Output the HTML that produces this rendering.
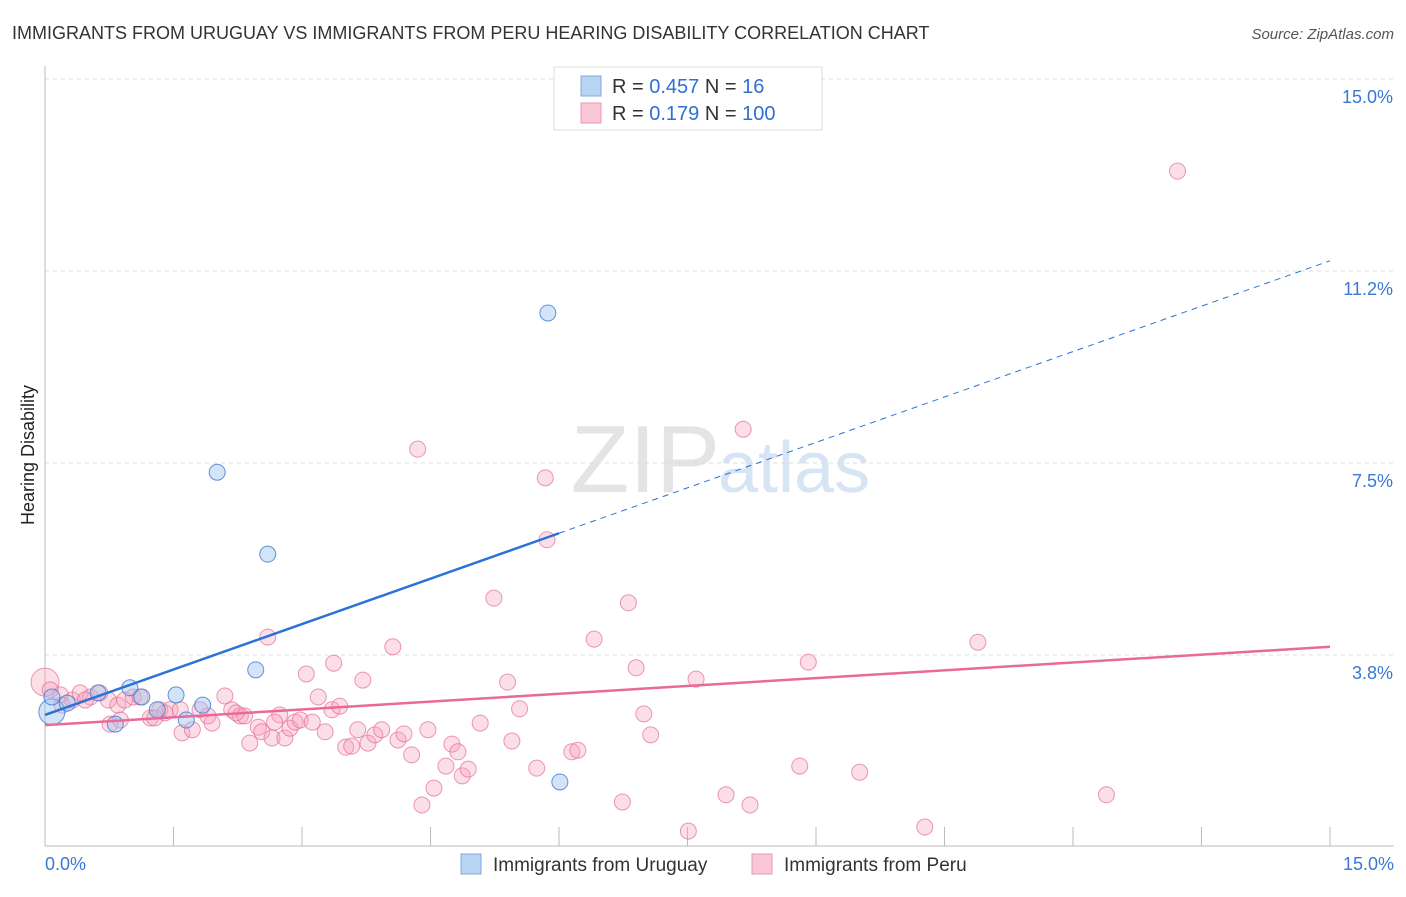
<!DOCTYPE html>
<html><head><meta charset="utf-8"><style>
body{margin:0;background:#fff;font-family:"Liberation Sans",sans-serif}
svg text{font-family:"Liberation Sans",sans-serif}
</style></head><body>
<svg width="1406" height="892" viewBox="0 0 1406 892">
<text x="12" y="39" font-size="18" fill="#333">IMMIGRANTS FROM URUGUAY VS IMMIGRANTS FROM PERU HEARING DISABILITY CORRELATION CHART</text>
<text x="1394" y="39" font-size="15" fill="#555" text-anchor="end" font-style="italic">Source: ZipAtlas.com</text>
<text x="720" y="492" font-size="96" fill="#e4e4e4" text-anchor="end" font-family="Liberation Serif">ZIP</text>
<text x="718" y="492" font-size="72" fill="#d6e4f4">atlas</text>
<g id="grid"></g><g id="axes"></g><g id="pts"></g><g id="lines"></g>
<text x="34" y="455" font-size="18" fill="#222" transform="rotate(-90 34 455)" text-anchor="middle">Hearing Disability</text>
<g>
<rect x="554" y="67" width="268" height="63" fill="#fff" stroke="#ddd"/>
<rect x="581" y="76" width="20" height="20" fill="#b9d3f3" stroke="#7fa8de"/>
<rect x="581" y="103" width="20" height="20" fill="#f9c6d5" stroke="#ea9ab2"/>
<text x="612" y="93" font-size="20" fill="#333">R = <tspan fill="#2f6fd6">0.457</tspan>   N =   <tspan fill="#2f6fd6"> 16</tspan></text>
<text x="612" y="120" font-size="20" fill="#333">R =  <tspan fill="#2f6fd6">0.179</tspan>   N = <tspan fill="#2f6fd6">100</tspan></text>
</g>
<g>
<rect x="461" y="854" width="20" height="20" fill="#b9d3f3" stroke="#7fa8de"/>
<text x="493" y="871" font-size="19" fill="#333">Immigrants from Uruguay</text>
<rect x="752" y="854" width="20" height="20" fill="#f9c6d5" stroke="#ea9ab2"/>
<text x="784" y="871" font-size="19" fill="#333">Immigrants from Peru</text>
</g>
</svg>
<script>
const yTicks=[3.75,7.5,11.25,15];
const yTickLabels=["3.8%","7.5%","11.2%","15.0%"];
const xTickVals=[0,1.5,3,4.5,6,7.5,9,10.5,12,13.5,15];
const xEndLabels=["0.0%","15.0%"];
const uruX=[0.08,0.08,0.26,0.62,0.82,0.99,1.13,1.31,1.53,1.65,1.84,2.01,2.46,2.60,5.87,6.01];
const uruY=[2.64,2.93,2.81,3.01,2.40,3.11,2.93,2.68,2.97,2.48,2.77,7.32,3.46,5.72,10.43,1.27];
const peruX=[0.00,0.18,0.32,0.41,0.53,0.64,0.74,0.85,0.93,1.03,1.11,1.23,1.34,1.40,1.46,1.58,1.60,1.72,1.81,1.90,1.95,2.10,2.18,2.28,2.33,2.39,2.49,2.53,2.60,2.65,2.74,2.80,2.86,2.92,2.98,3.05,3.12,3.19,3.27,3.35,3.37,3.44,3.51,3.58,3.65,3.71,3.77,3.85,3.93,4.06,4.12,4.19,4.28,4.35,4.40,4.47,4.54,4.68,4.75,4.82,4.87,4.94,5.08,5.24,5.40,5.45,5.54,5.74,5.84,5.86,6.15,6.22,6.41,6.74,6.81,6.90,6.99,7.07,7.51,7.60,7.95,8.15,8.23,8.81,8.91,9.51,10.27,10.89,12.39,13.22,0.06,0.20,0.47,0.76,0.88,1.28,2.23,2.68];
const peruY=[3.22,2.97,2.87,3.01,2.93,3.01,2.87,2.77,2.87,2.93,2.93,2.52,2.68,2.62,2.68,2.68,2.23,2.29,2.68,2.56,2.42,2.95,2.68,2.56,2.56,2.03,2.34,2.25,4.10,2.13,2.58,2.13,2.32,2.44,2.48,3.38,2.44,2.93,2.25,2.68,3.59,2.75,1.95,1.97,2.29,3.26,2.03,2.19,2.29,3.91,2.09,2.21,1.80,7.77,0.82,2.29,1.15,1.58,2.01,1.86,1.39,1.52,2.42,4.86,3.22,2.07,2.70,1.54,7.21,6.00,1.86,1.89,4.06,0.88,4.77,3.50,2.60,2.19,0.31,3.28,1.02,8.16,0.82,1.58,3.61,1.46,0.39,4.00,1.02,13.20,3.07,2.77,2.87,2.40,2.48,2.52,2.62,2.44];
const uruTrend=[2.58,11.45];
const peruTrend=[2.38,3.91];
const NS="http://www.w3.org/2000/svg";
const X=v=>45+v/15*1285, Y=v=>847-v*51.2;
function mk(t,a,p){const e=document.createElementNS(NS,t);for(const k in a)e.setAttribute(k,a[k]);document.getElementById(p).appendChild(e);return e;}
yTicks.forEach((v,i)=>{
 const l=mk('line',{x1:45,x2:1394,y1:Y(v),y2:Y(v),stroke:'#ddd','stroke-dasharray':'4,4'},'grid');
 
 
 const t=mk('text',{x:1393,y:Y(v)+24,'font-size':18,fill:'#3a78d4','text-anchor':'end'},'grid');t.textContent=yTickLabels[i];
 
 
});
const ax=mk('line',{x1:45,x2:45,y1:66,y2:846,stroke:'#bbb'},'axes');


const bx=mk('line',{x1:45,x2:1394,y1:846,y2:846,stroke:'#bbb'},'axes');


xTickVals.forEach(v=>{const t=mk('line',{x1:X(v),x2:X(v),y1:827,y2:846,stroke:'#bbb'},'axes');
 
 });
[[0,'start',45],[15,'end',1394]].forEach((d,i)=>{const t=mk('text',{x:d[2],y:870,'font-size':18,fill:'#3a78d4','text-anchor':d[1]},'axes');t.textContent=xEndLabels[i];
 
 });
peruX.forEach((x,i)=>{const c=mk('circle',{cx:X(x),cy:Y(peruY[i]),r:i==0?14:8,fill:'rgba(245,160,186,0.35)',stroke:'rgba(228,110,150,0.7)','stroke-width':1},'pts');
 
 });
uruX.forEach((x,i)=>{const c=mk('circle',{cx:X(x),cy:Y(uruY[i]),r:i==0?13:8,fill:'rgba(160,195,240,0.45)',stroke:'rgba(60,120,210,0.8)','stroke-width':1},'pts');
 
 });
const ub=uruTrend[0], us=(uruTrend[1]-uruTrend[0])/15;
const l1=mk('line',{x1:X(0),y1:Y(ub),x2:X(6),y2:Y(ub+us*6),stroke:'#2a72d8','stroke-width':2.5},'lines');


const l2=mk('line',{x1:X(6),y1:Y(ub+us*6),x2:X(15),y2:Y(uruTrend[1]),stroke:'#2a72d8','stroke-width':1,'stroke-dasharray':'6,5'},'lines');


const l3=mk('line',{x1:X(0),y1:Y(peruTrend[0]),x2:X(15),y2:Y(peruTrend[1]),stroke:'#e8699a','stroke-width':2.5},'lines');


</script>
</body></html>
